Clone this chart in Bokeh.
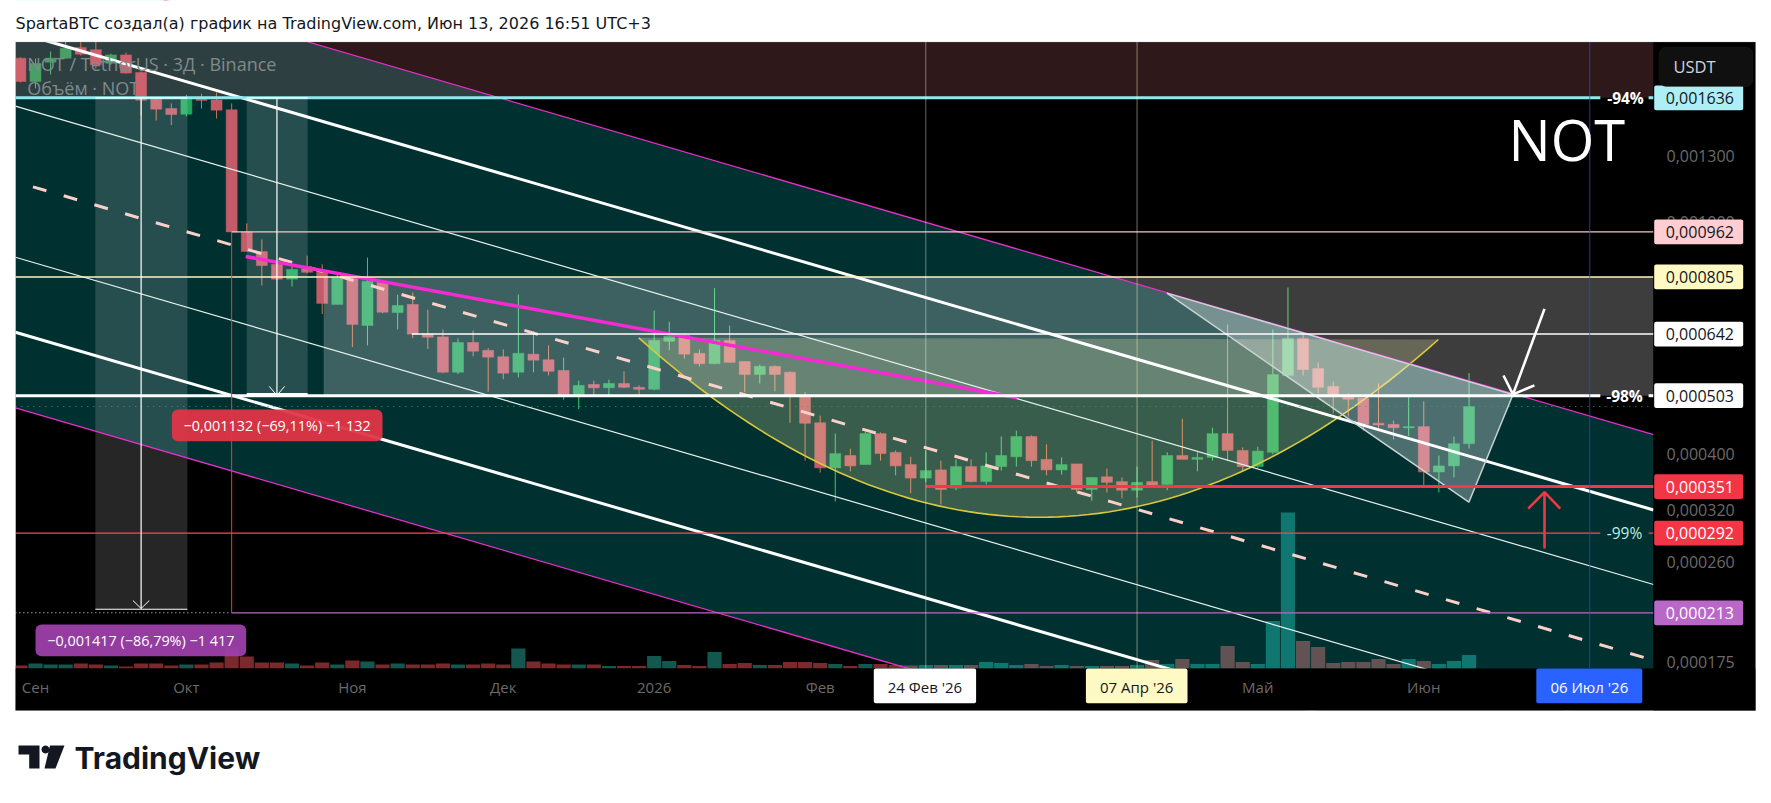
import math
import pandas as pd
from bokeh.plotting import figure
from bokeh.embed import file_html
from bokeh.resources import INLINE
from bokeh.models import (BoxAnnotation, Label, FixedTicker, Range1d, LinearScale,
                          PolyAnnotation)

# ---------- chart values (prices in 1e-6 USDT) ----------
first_candle = "2025-08-28"
opens = [1914,1745,1884,1914,1996,1979,1876,1939,1809,1627,1568,1533,1627,1622,1560,962,890,846,798,832,
         826,722,804,664,789,699,722,642,635,552,621,602,587,552,593,580,556,502,526,519,
         528,520,516,624,638,595,571,626,576,547,565,552,504,452,378,397,383,433,402,383,
         363,375,349,380,358,380,395,428,391,375,384,347,365,358,346,358,354,397,391,394,
         433,405,380,402,545,631,560,522,500,498,451,449,443,445,372,381,416]
highs = [1920,1911,1965,2043,2043,2052,1949,1957,1816,1631,1600,1656,1663,1672,1600,995,934,848,839,876,
         846,813,810,869,794,750,757,707,654,631,651,607,604,751,649,614,585,534,534,536,
         554,524,705,674,643,604,770,664,576,569,567,554,510,465,433,408,436,435,405,395,
         405,389,391,391,402,428,438,430,415,394,384,364,377,364,380,421,402,459,402,443,
         667,410,411,654,772,646,574,532,508,498,528,456,500,492,397,428,550]
lows = [1738,1698,1794,1911,1934,1837,1866,1800,1525,1495,1468,1520,1568,1507,957,890,778,797,775,816,
        695,722,610,614,697,654,632,605,550,548,588,511,537,541,552,545,495,477,504,504,
        518,504,514,602,583,565,570,574,510,528,512,452,389,371,331,373,383,389,367,342,
        357,327,346,357,354,374,380,380,367,368,343,332,343,335,336,351,346,391,373,389,
        389,373,378,399,545,545,508,469,463,438,443,423,429,353,343,364,408]
closes = [1745,1874,1914,1991,1944,1864,1939,1804,1621,1564,1531,1627,1619,1558,962,890,842,798,829,820,
          725,804,667,791,700,719,642,634,552,621,600,586,550,595,579,554,503,524,519,528,
          520,516,626,636,593,571,626,574,547,565,547,502,451,378,400,381,433,400,381,363,
          374,347,380,358,381,397,428,389,375,383,347,364,357,346,357,352,397,391,394,433,
          405,380,404,547,631,558,520,502,496,449,448,443,445,372,381,416,482]
volumes = [3,5,4,4,5,4,3,2,5,5,3,4,4,6,20,12,6,6,5,3,6,4,8,7,4,5,4,4,5,4,4,5,4,20,7,5,4,4,4,
           2.5,2.5,2.5,12.5,7.5,3.5,2.5,16.5,4.5,5.5,3.5,3.5,6.5,6.5,5.5,4.5,2.5,4.5,4.5,3.5,3,
           3.5,3.5,3.5,3.5,6.5,5.5,3.5,4.5,2.5,3.5,2.5,2.5,2.5,2.5,3.5,8.5,4.5,9.5,4.5,4.5,22.5,
           6.5,4.5,47.5,156,27.5,21.5,5.5,6.5,6.5,9.5,4.5,9.5,7.5,4.5,7.5,13.5]

month_days = [-177, -147, -114, -84, -54, -21, 66, 99]
month_labels = ["Сен", "Окт", "Ноя", "Дек", "2026", "Фев", "Май", "Июн"]
price_ticks = [1300, 1000, 400, 320, 260, 175]
price_tick_labels = ["0,001300", "0,001000", "0,000400", "0,000320", "0,000260", "0,000175"]
level_prices = [1636, 962, 805, 642, 503, 351, 292, 213]
level_labels = ["0,001636", "0,000962", "0,000805", "0,000642", "0,000503", "0,000351", "0,000292", "0,000213"]

# channel (days from 24 Feb 2026, prices)
channel_days = [-181.0, 144.67]
ch_top = [2862, 431]
ch_thick_up = [2125, 320]
ch_thin_up = [1582.5, 238.2]
ch_thin_low = [870.4, 131]
ch_thick_low = [646.8, 97.4]
ch_bottom = [479.6, 72.2]
ch_mid_days = [-177.5, 144.67]
ch_mid = [1150, 176.5]

# ---------- scales ----------
PX_DAY = 5.03
PX_REF = 925.3
PX_LN = 252.6
T0 = pd.Timestamp("2026-02-24").value // 10**6
DAY = 86400000
CW, CH = 1763, 795
def T(d): return T0 + d * DAY
def E6(v): return v * 1e-6
def X(px): return T((px - PX_REF) / PX_DAY)
def Y(py): return 0.001636 * math.exp(-(py - 97.3) / PX_LN)
def PY(p): return 97.3 + PX_LN * math.log(0.001636 / p)

p = figure(width=CW, height=CH, output_backend="svg", toolbar_location=None,
           x_axis_type="datetime", y_axis_type="log", y_axis_location="right",
           x_range=Range1d(X(0), X(CW)), y_range=Range1d(Y(CH), Y(0)),
           min_border=0, background_fill_color="white", border_fill_color="white",
           outline_line_color=None)
p.grid.visible = False

# chart base
p.quad(left=X(15), right=X(1755), top=Y(41.5), bottom=Y(710), fill_color="black", line_color=None)

# axes, pinned to the edge of the price pane
xa = p.xaxis[0]
xa.fixed_location = Y(668)
xa.ticker = FixedTicker(ticks=[T(d) for d in month_days])
xa.major_label_overrides = {T(d): s for d, s in zip(month_days, month_labels)}
xa.major_label_text_color = "#6a6a6a"
xa.major_label_text_font = "Open Sans"
xa.major_label_text_font_size = "15px"
xa.major_label_standoff = 2
xa.major_tick_line_color = None
xa.minor_tick_line_color = None
xa.axis_line_color = None
ya = p.yaxis[0]
ya.fixed_location = X(1653)
ya.ticker = FixedTicker(ticks=[E6(v) for v in price_ticks])
ya.major_label_overrides = {E6(v): s for v, s in zip(price_ticks, price_tick_labels)}
ya.major_label_text_color = "#6a6a6a"
ya.major_label_text_font = "Open Sans"
ya.major_label_text_font_size = "16px"
ya.major_label_standoff = 7
ya.major_tick_line_color = None
ya.minor_tick_line_color = None
ya.axis_line_color = None

# volume pane: one unit per pixel above the pane's base line
p.extra_y_ranges = {"vol": Range1d(668 - CH, 668)}
p.extra_y_scales = {"vol": LinearScale()}
n = len(opens)
kx = [T(-180 + 3 * i) for i in range(n)]
up = [c >= o for o, c in zip(opens, closes)]
p.vbar(x=kx, width=2.82 * DAY, bottom=0, top=volumes, y_range_name="vol",
       fill_color=["#14574f" if u else "#7a2a2c" for u in up], line_color=None)

# candles
p.segment(x0=kx, x1=kx, y0=[E6(v) for v in lows], y1=[E6(v) for v in highs],
          line_color=["#39c548" if u else "#ff5528" for u in up], line_width=1)
p.vbar(x=kx, width=2.19 * DAY, bottom=[E6(min(o, c)) for o, c in zip(opens, closes)],
       top=[E6(max(o, c)) for o, c in zip(opens, closes)],
       fill_color=["#2a9439" if u else "#f23645" for u in up],
       line_color=["#2a9439" if u else "#f23645" for u in up], line_width=0.5)

# channel fill
p.patch([T(channel_days[0]), T(channel_days[1]), T(channel_days[1]), T(channel_days[0])],
        [E6(ch_top[0]), E6(ch_top[1]), E6(ch_bottom[1]), E6(ch_bottom[0])],
        fill_color="#00ffff", fill_alpha=0.19, line_color=None)

# top zone above 0.001636
XL, XR = channel_days
p.quad(left=T(XL), right=T(XR), top=Y(41.5), bottom=E6(1636), fill_color="#f27e89", fill_alpha=0.19, line_color=None)

# measured ranges
p.quad(left=[T(-165.1), T(-135)], right=[T(-146.8), T(-122.9)], top=[E6(1636), E6(1636)],
       bottom=[E6(216), E6(504)], fill_color="white", fill_alpha=0.15, line_color=None)
# big box
p.quad(left=T(-119.7), right=T(XR), top=E6(805), bottom=E6(503), fill_color="white", fill_alpha=0.24, line_color=None)

# cup arc
cup_d = [-57.06, 22.4, 101.9]
cup_p = [632.6, 153.3, 628.4]
ts = [i / 80 for i in range(81)]
arc_d = [(1-t)**2*cup_d[0] + 2*t*(1-t)*cup_d[1] + t*t*cup_d[2] for t in ts]
arc_p = [math.exp((1-t)**2*math.log(cup_p[0]) + 2*t*(1-t)*math.log(cup_p[1]) + t*t*math.log(cup_p[2])) for t in ts]
p.patch([T(d) for d in arc_d], [E6(v) for v in arc_p], fill_color="#ffffb4", fill_alpha=0.22, line_color=None)
p.line([T(d) for d in arc_d], [E6(v) for v in arc_p], line_color="#d8c93c", line_width=1.6)

# channel lines
def chan(days, vals, color, width, dash="solid"):
    p.line([T(d) for d in days], [E6(v) for v in vals], line_color=color, line_width=width, line_dash=dash)
chan(channel_days, ch_top, "#e62fc8", 1.3)
chan(channel_days, ch_bottom, "#e62fc8", 1.3)
chan(channel_days, ch_thin_up, "#e6f2ef", 1.2)
chan(channel_days, ch_thin_low, "#e6f2ef", 1.2)
chan(channel_days, ch_thick_up, "#ffffff", 3)
chan(channel_days, ch_thick_low, "#ffffff", 3)
chan(ch_mid_days, ch_mid, "#fbd0c8", 3, "14 18")

# triangle
tri_d = [47.93, 116.74, 107.97]
tri_p = [755, 505.6, 330]
p.patch([T(d) for d in tri_d], [E6(v) for v in tri_p], fill_color="white", fill_alpha=0.3,
        line_color="#c8d2d2", line_width=1.5)

# magenta trendline
p.line([T(-135.2), T(18.1)], [E6(872.8), E6(499)], line_color="#f52ad3", line_width=3.5)

# horizontal levels
GAP_A, GAP_B = 134.1, 143.7
def hl(d0, d1, val, color, width, dash="solid"):
    p.line([T(d0), T(d1)], [E6(val), E6(val)], line_color=color, line_width=width, line_dash=dash)
hl(XL, GAP_A, 1636, "#8ee8ec", 3); hl(GAP_B, XR, 1636, "#8ee8ec", 3)
hl(-138, XR, 962, "#f9c6c6", 1.2)
hl(XL, XR, 805, "#fff6bf", 1.6)
hl(-102.2, XR, 642, "#ffffff", 1.5)
hl(XL, GAP_A, 503, "#ffffff", 3); hl(GAP_B, XR, 503, "#ffffff", 3)
hl(0, XR, 351, "#f73748", 3)
hl(XL, GAP_A, 292, "#ff4455", 1.2); hl(GAP_B, XR, 292, "#ff4455", 1.2)
hl(-138, XR, 213, "#ba68c8", 1.2)
hl(XL, -138, 213, "#e8e8e8", 1, "1 3")
hl(XL, XR, closes[-1], "#1fae5f", 1, "1 5")

# vertical markers
def vl(d, color, alpha=1.0, width=1):
    p.line([T(d), T(d)], [Y(41.5), Y(668)], line_color=color, line_alpha=alpha, line_width=width)
vl(0, "#ffffff", 0.4)
vl(42, "#fff9c4", 0.45)
vl(132, "#2a52be", 0.75)
p.line([T(-138), T(-138)], [E6(962), E6(213)], line_color="#f23645", line_width=1)

# measure arrows
for d, low, arm_d, arm_p, l, r in [(-156, 216.6, 1.63, 223.6, -165.1, -146.8), (-129, 503.5, 1.53, 522, -135, -122.9)]:
    p.line([T(d), T(d)], [E6(1636), E6(low)], line_color="white", line_width=1.2)
    p.line([T(d - arm_d), T(d), T(d + arm_d)], [E6(arm_p), E6(low), E6(arm_p)], line_color="white", line_width=1)
    p.line([T(l), T(r)], [E6(1636), E6(1636)], line_color="white", line_width=1.2)
p.line([T(-165.1), T(-146.8)], [E6(216), E6(216)], line_color="white", line_width=1.2)
p.line([T(-135), T(-122.9)], [E6(506), E6(506)], line_color="white", line_width=2.5)

# big arrows
p.line([T(123), T(116.74)], [E6(709.5), E6(505.6)], line_color="white", line_width=2.6)
p.line([T(114.85), T(116.74), T(121)], [E6(545), E6(505.6), E6(524)], line_color="white", line_width=2.6)
p.line([T(123), T(123)], [E6(274.7), E6(343.3)], line_color="#f23645", line_width=2.6)
p.line([T(119.76), T(123), T(126.14)], [E6(321.8), E6(343.3), E6(321.8)], line_color="#f23645", line_width=2.6)

# panels that close off the price pane (they cut the marks at its edges)
for l, r, t, b, c in [(0, CW, 0, 41.5, "white"), (0, 15, 0, CH, "white"), (1755, CW, 0, CH, "white"),
                      (0, CW, 710, CH, "white"), (1653, 1755, 41.5, 710, "black"), (15, 1755, 668, 710, "black")]:
    p.quad(left=X(l), right=X(r), top=Y(t), bottom=Y(b), fill_color=c, line_color=None)

# ---------- annotations ----------
def box(l, r, t, b, color, alpha=1.0, line=None, radius=0):
    p.add_layout(BoxAnnotation(left=X(l), right=X(r), top=Y(t), bottom=Y(b), fill_color=color, fill_alpha=alpha,
                               line_color=line, line_width=1, border_radius=radius))
def txt(px, py, s, color, size, font="Open Sans", align="left", style="normal", alpha=1.0):
    p.add_layout(Label(x=X(px), y=Y(py), text=s, text_color=color, text_font=font, text_font_size=f"{size}px",
                       text_align=align, text_baseline="middle", text_font_style=style, text_alpha=alpha))

# frame outline
p.add_layout(BoxAnnotation(left=X(15), right=X(1755), top=Y(41.5), bottom=Y(710), fill_alpha=0,
                           line_color="#9a9a9a", line_width=1))

# price tags
tag_fill = ["#aeeef5", "#ffcdd2", "#fff9c4", "#ffffff", "#ffffff", "#f23645", "#f23645", "#ba68c8"]
tag_text = ["#131722", "#131722", "#131722", "#131722", "#131722", "#ffffff", "#ffffff", "#ffffff"]
for v, s, f, c in zip(level_prices, level_labels, tag_fill, tag_text):
    y = PY(E6(v))
    box(1653.7, 1742.7, y - 12.35, y + 12.35, f, radius=2)
    txt(1733.5, y, s, c, 16, align="right")

# USDT button
box(1658.7, 1752.3, 46.7, 86, "#101010", line="#2a2a2a", radius=7)
txt(1673, 66, "USDT", "#d1d4dc", 16.5)

# date tags
for l, r, s, f, c in [(873.3, 975.6, "24 Фев '26", "#ffffff", "#131722"),
                      (1085.4, 1187, "07 Апр '26", "#fff9c4", "#131722"),
                      (1535.8, 1641.8, "06 Июл '26", "#2962ff", "#ffffff")]:
    box(l, r, 668, 702.7, f, radius=2)
    txt((l + r) / 2, 686, s, c, 15, align="center")

# percent labels
txt(1625, 97, "-94%", "#ffffff", 15.5, align="center", style="bold")
txt(1624, 395.5, "-98%", "#ffffff", 15.5, align="center", style="bold")
txt(1624, 532, "-99%", "#b5f0e8", 15.5, align="center")

# measure labels
box(171.4, 382, 409, 440.7, "#e03546", 0.95, radius=6)
txt(276.7, 425, "−0,001132 (−69,11%) −1 132", "#ffffff", 14.4, align="center")
box(35, 245.7, 624, 655.7, "#9c3fa9", 0.95, radius=6)
txt(140.3, 640, "−0,001417 (−86,79%) −1 417", "#ffffff", 14.4, align="center")

# legend text
txt(26.8, 63.3, "NOT / TetherUS · 3Д · Binance", "#7f8a8a", 18)
txt(26.8, 87, "Объём · NOT", "#7f8a8a", 18)

# NOT
txt(1508, 138, "NOT", "#ffffff", 56, font="Open Sans")

# header and logo
txt(15, 23, "SpartaBTC создал(а) график на TradingView.com, Июн 13, 2026 16:51 UTC+3", "#131722", 16, font="DejaVu Sans")
txt(74, 757, "TradingView", "#131722", 30, font="Inter", style="bold")
def poly(pts):
    p.add_layout(PolyAnnotation(xs=[X(a) for a, _ in pts], ys=[Y(b) for _, b in pts], fill_color="#131722",
                                fill_alpha=1, line_color=None))
poly([(18, 745), (39, 745), (39, 768), (28.7, 768), (28.7, 754), (18, 754)])
poly([(49.5, 745), (64, 745), (55, 768), (44, 768)])
poly([(45 + 4 * math.cos(a * math.pi / 6), 749 + 4 * math.sin(a * math.pi / 6)) for a in range(12)])

open("out.html", "w").write(file_html(p, INLINE))
